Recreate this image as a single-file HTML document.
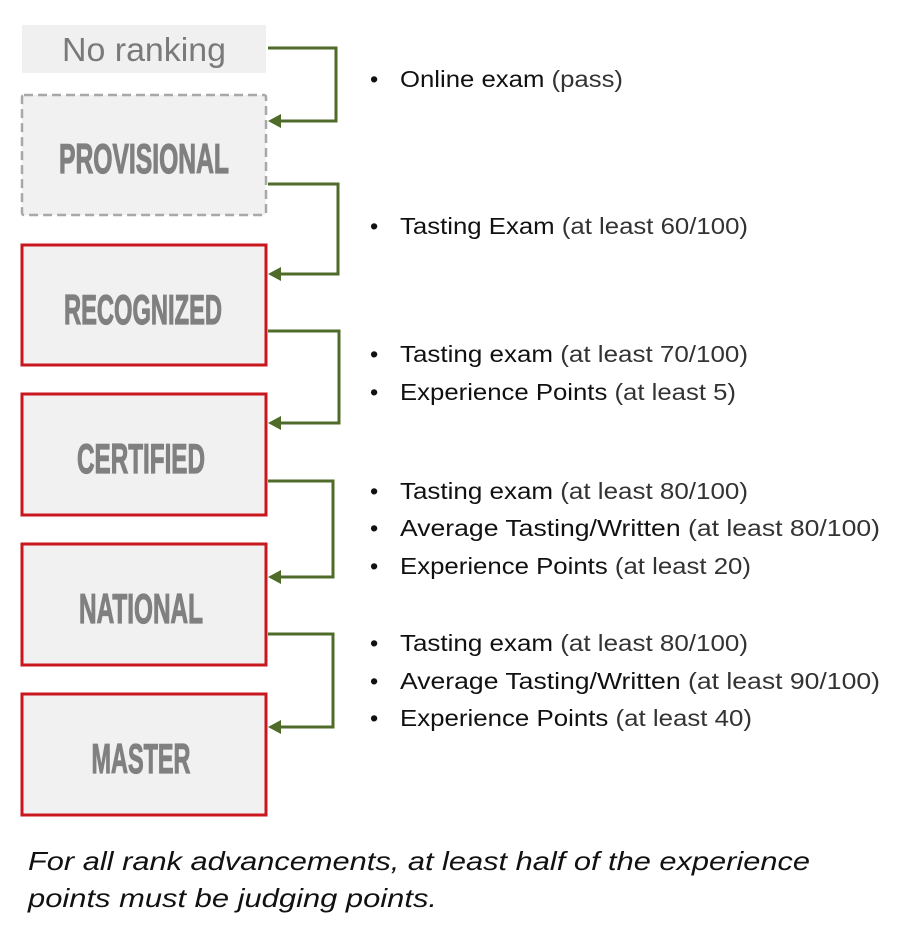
<!DOCTYPE html>
<html><head><meta charset="utf-8"><style>
html,body{margin:0;padding:0;background:#fff;}
svg{display:block;}
</style></head><body>
<svg width="923" height="948" xmlns="http://www.w3.org/2000/svg">
<rect x="22" y="25" width="244" height="48" fill="#f0f0f0"/>
<text x="144" y="61" text-anchor="middle" font-family="Liberation Sans, sans-serif" font-size="33" fill="#7a7a7a" textLength="164" lengthAdjust="spacingAndGlyphs">No ranking</text>
<rect x="22" y="95" width="244" height="120" fill="#f1f1f1" stroke="#a8a8a8" stroke-width="2.5" stroke-dasharray="9,5" rx="2"/>
<g fill="#f1f1f1" stroke="#c8171e" stroke-width="3">
<rect x="22" y="245" width="244" height="120"/>
<rect x="22" y="394" width="244" height="121"/>
<rect x="22" y="544" width="244" height="121"/>
<rect x="22" y="694" width="244" height="121"/>
</g>
<g font-family="Liberation Sans Narrow, Liberation Sans, sans-serif" font-weight="bold" font-size="42" fill="#808080" stroke="#808080" stroke-width="1.2" text-anchor="middle">
<text x="144" y="173" textLength="170" lengthAdjust="spacingAndGlyphs">PROVISIONAL</text>
<text x="143" y="324" textLength="158" lengthAdjust="spacingAndGlyphs">RECOGNIZED</text>
<text x="141" y="473" textLength="128" lengthAdjust="spacingAndGlyphs">CERTIFIED</text>
<text x="141" y="623" textLength="124" lengthAdjust="spacingAndGlyphs">NATIONAL</text>
<text x="141" y="773" textLength="99" lengthAdjust="spacingAndGlyphs">MASTER</text>
</g>
<g fill="none" stroke="#4f6b2a" stroke-width="3">
<path d="M268,48 H336 V121 H280"/>
<path d="M268,184 H338 V274 H280"/>
<path d="M268,331 H339 V423 H280"/>
<path d="M268,481 H333 V577 H280"/>
<path d="M268,634 H333 V727 H280"/>
</g>
<g fill="#4f6b2a">
<polygon points="268,121 281,114 281,128"/>
<polygon points="268,274 281,267 281,281"/>
<polygon points="268,423 281,416 281,430"/>
<polygon points="268,577 281,570 281,584"/>
<polygon points="268,727 281,720 281,734"/>
</g>
<g font-family="Liberation Sans, sans-serif" font-size="23.5" fill="#111" lengthAdjust="spacingAndGlyphs">
<text x="370" y="87">•</text><text x="400" y="87" textLength="223" lengthAdjust="spacingAndGlyphs">Online exam <tspan fill="#333">(pass)</tspan></text>
<text x="370" y="234">•</text><text x="400" y="234" textLength="348" lengthAdjust="spacingAndGlyphs">Tasting Exam <tspan fill="#333">(at least 60/100)</tspan></text>
<text x="370" y="362">•</text><text x="400" y="362" textLength="348" lengthAdjust="spacingAndGlyphs">Tasting exam <tspan fill="#333">(at least 70/100)</tspan></text>
<text x="370" y="400">•</text><text x="400" y="400" textLength="336" lengthAdjust="spacingAndGlyphs">Experience Points <tspan fill="#333">(at least 5)</tspan></text>
<text x="370" y="499">•</text><text x="400" y="499" textLength="348" lengthAdjust="spacingAndGlyphs">Tasting exam <tspan fill="#333">(at least 80/100)</tspan></text>
<text x="370" y="536">•</text><text x="400" y="536" textLength="480" lengthAdjust="spacingAndGlyphs">Average Tasting/Written <tspan fill="#333">(at least 80/100)</tspan></text>
<text x="370" y="574">•</text><text x="400" y="574" textLength="351" lengthAdjust="spacingAndGlyphs">Experience Points <tspan fill="#333">(at least 20)</tspan></text>
<text x="370" y="651">•</text><text x="400" y="651" textLength="348" lengthAdjust="spacingAndGlyphs">Tasting exam <tspan fill="#333">(at least 80/100)</tspan></text>
<text x="370" y="689">•</text><text x="400" y="689" textLength="480" lengthAdjust="spacingAndGlyphs">Average Tasting/Written <tspan fill="#333">(at least 90/100)</tspan></text>
<text x="370" y="726">•</text><text x="400" y="726" textLength="352" lengthAdjust="spacingAndGlyphs">Experience Points <tspan fill="#333">(at least 40)</tspan></text>
</g>
<g font-family="Liberation Sans, sans-serif" font-size="26" font-style="italic" fill="#111">
<text x="28" y="870" textLength="782" lengthAdjust="spacingAndGlyphs">For all rank advancements, at least half of the experience</text>
<text x="28" y="907" textLength="409" lengthAdjust="spacingAndGlyphs">points must be judging points.</text>
</g>
</svg>
</body></html>
